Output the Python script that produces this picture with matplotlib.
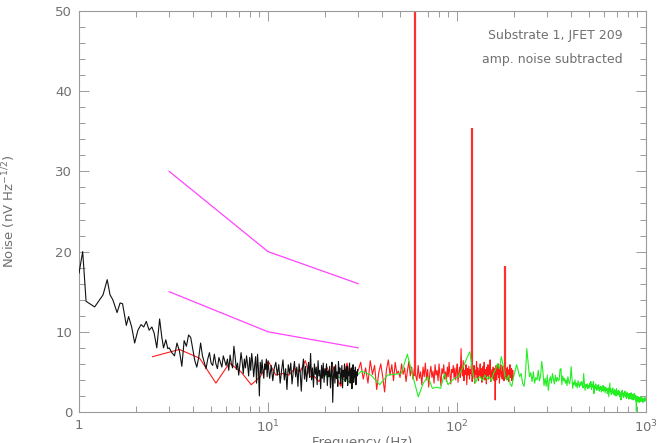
import numpy as np
import matplotlib
matplotlib.use("Agg")
import matplotlib.pyplot as plt
from matplotlib.ticker import FixedLocator, FixedFormatter, MultipleLocator

# ---------------- data ----------------
# black: low-frequency part (explicit) and dense part on a uniform grid
black_f_low = [1.00, 1.046, 1.09, 1.21, 1.34, 1.41, 1.46, 1.51, 1.59, 1.65, 1.70, 1.78,
               1.83, 1.90, 1.97, 2.05, 2.13, 2.20, 2.27, 2.35, 2.43, 2.50, 2.58, 2.67,
               2.74, 2.80, 2.88, 2.95]
black_v_low = [17.3, 20.0, 13.8, 13.1, 14.6, 16.5, 14.6, 14.0, 12.4, 13.6, 13.5, 10.8,
               11.9, 10.6, 8.6, 10.2, 10.9, 10.6, 11.3, 10.2, 10.6, 9.8, 8.0, 11.6,
               9.4, 8.0, 9.0, 7.9]
black_f_mid = np.arange(3.0, 9.95, 0.1)
black_v_mid = [8.0, 7.4, 7.0, 8.6, 7.6, 5.7, 8.9, 8.2, 9.6, 9.3,
               7.8, 6.4, 5.6, 6.8, 8.6, 7.0, 6.2, 5.4, 6.6, 7.4,
               6.1, 5.8, 7.2, 6.0, 5.4, 6.8, 6.2, 5.6, 7.0, 6.4,
               5.8, 6.6, 5.2, 7.1, 6.0, 5.5, 8.2, 6.9, 5.3, 6.1,
               4.6, 5.9, 7.4, 6.3, 4.8, 6.6, 5.5, 7.0, 5.9, 4.5,
               6.8, 5.2, 7.3, 6.1, 4.4, 5.8, 6.9, 3.6, 7.2, 5.4,
               2.0, 6.2, 4.8, 6.5, 5.1, 4.2, 6.0, 5.3, 6.6, 4.4]
black_f_high = np.arange(10.0, 29.9, 0.2)
black_v_high = [6.4, 4.2, 5.8, 3.9, 5.5, 6.2, 4.6, 5.9, 3.6, 5.2,
                6.5, 4.0, 5.4, 2.8, 5.9, 4.8, 6.1, 3.5, 5.0, 6.3,
                4.4, 5.6, 3.2, 6.0, 4.9, 2.6, 5.3, 6.6, 4.1, 5.7,
                3.8, 5.1, 6.2, 4.3, 7.3, 4.0, 5.5, 3.1, 6.0, 4.7,
                5.6, 3.4, 6.4, 4.5, 5.2, 2.9, 5.8, 4.2, 6.1, 3.7,
                5.4, 4.6, 6.0, 3.3, 5.1, 4.4, 5.7, 3.0, 4.9, 6.2,
                1.2, 4.5, 5.6, 3.6, 5.9, 4.2, 5.0, 3.2, 6.3, 4.8,
                5.5, 3.5, 4.6, 5.8, 3.0, 5.2, 4.4, 6.0, 3.8, 5.3,
                4.1, 5.7, 3.3, 5.0, 4.6, 6.1, 3.6, 4.9, 5.5, 2.9,
                4.8, 5.9, 3.7, 5.2, 4.3, 5.6, 3.4, 5.0, 4.5, 5.3]

# red: uniform frequency grid from 2.45 Hz
red_f = np.arange(2.45, 199.5, 0.95)
red_v = [6.9, 7.8, 6.7, 3.6, 6.1, 5.0, 3.4, 4.4, 6.3, 4.6,
         4.8, 4.6, 5.4, 5.0, 6.4, 4.4, 4.4, 3.8, 4.6, 5.6,
         4.4, 5.7, 4.0, 3.2, 4.8, 6.1, 4.4, 5.6, 3.9, 5.2,
         6.2, 4.1, 5.5, 3.6, 6.4, 4.7, 5.8, 2.8, 4.9, 6.0,
         4.4, 2.5, 5.3, 6.5, 4.6, 5.9, 3.9, 6.2, 4.8, 5.1,
         4.3, 6.0, 4.7, 5.5, 3.8, 5.2, 6.3, 4.5, 5.6, 4.1,
         5.4, 4.6, 3.9, 5.8, 4.2, 5.0, 3.4, 5.6, 4.4, 6.1,
         4.0, 5.3, 3.1, 4.8, 5.7, 4.3, 5.1, 3.6, 5.9, 4.6,
         5.2, 3.9, 6.0, 4.5, 3.3, 5.4, 4.8, 5.9, 4.1, 5.0,
         3.8, 5.6, 4.4, 6.2, 4.7, 3.5, 5.3, 4.9, 5.8, 4.2,
         5.5, 4.0, 5.1, 6.0, 3.7, 4.8, 5.6, 4.3, 7.9, 5.0,
         4.5, 6.4, 3.9, 5.2, 4.7, 5.9, 3.4, 5.4, 4.6, 5.7,
         4.1, 5.3, 4.8, 6.1, 3.8, 5.0, 4.4, 5.8, 3.6, 5.2,
         4.7, 6.3, 4.2, 5.5, 3.9, 5.1, 4.6, 6.0, 4.3, 5.4,
         3.7, 4.9, 5.7, 4.4, 6.2, 4.0, 5.3, 4.8, 3.5, 5.6,
         4.5, 5.9, 4.1, 5.2, 4.7, 6.5, 3.8, 5.0, 4.4, 5.3,
         4.2, 5.6, 4.9, 3.9, 5.4, 1.5, 4.6, 5.8, 4.0, 5.1,
         4.7, 6.0, 4.3, 5.5, 3.6, 5.2, 4.8, 5.9, 4.4, 5.0,
         4.1, 5.7, 4.6, 5.3, 3.9, 5.0, 4.5, 5.8, 4.2, 5.4,
         4.8, 4.0, 5.6, 4.4, 5.1, 3.8, 5.3, 4.7, 5.9, 4.3,
         5.0, 4.5, 5.4, 3.9, 4.8, 5.2, 4.6, 4.4]

# red mains-pickup lines
spike_f = [60.0, 120.0, 180.0]
spike_v = [52.0, 35.4, 18.2]

# green: uniform frequency grid from 19.5 Hz
green_f = np.arange(19.5, 1000.0, 3.9)
green_v = [4.5, 4.4, 3.7, 5.1, 4.6, 3.4, 4.6, 4.7, 4.8, 7.2,
           4.4, 1.9, 3.6, 4.4, 2.95, 3.1, 2.95, 4.8, 3.4, 3.9,
           4.2, 4.4, 5.2, 5.9, 6.8, 7.5, 5.0, 3.6, 4.2, 4.4,
           3.9, 4.6, 4.1, 4.4, 3.8, 4.8, 5.3, 6.0, 5.4, 6.9,
           5.8, 4.4, 4.0, 4.6, 3.5, 3.2, 4.3, 5.1, 5.9, 5.2,
           4.4, 4.8, 3.6, 3.2, 4.5, 7.9, 6.2, 4.4, 4.9, 3.8,
           5.0, 3.6, 4.3, 4.0, 5.2, 3.9, 4.5, 6.3, 5.1, 3.3,
           4.2, 3.2, 4.6, 2.7, 3.9, 4.4, 3.6, 4.8, 4.1, 3.5,
           4.6, 3.8, 4.3, 3.9, 4.0, 5.3, 5.4, 3.4, 4.5, 3.9,
           4.2, 3.6, 4.0, 3.3, 4.4, 3.8, 3.5, 4.1, 5.65, 4.3,
           2.95, 3.7, 3.4, 4.0, 3.2, 3.6, 3.0, 3.9, 3.4, 3.1,
           3.7, 3.3, 3.8, 3.5, 3.0, 4.8, 3.6, 2.7, 3.4, 3.1,
           3.5, 2.9, 3.3, 3.0, 3.6, 3.2, 3.8, 2.8, 3.4, 3.1,
           3.8, 2.3, 3.3, 2.9, 3.5, 3.0, 2.7, 3.3, 2.9, 3.4,
           2.6, 3.1, 2.8, 3.2, 2.5, 3.0, 2.7, 3.3, 2.6, 3.2,
           2.8, 2.4, 3.1, 2.7, 2.9, 2.3, 2.6, 3.0, 1.9, 2.8,
           3.6, 2.5, 2.9, 2.2, 2.7, 2.4, 3.0, 2.3, 2.6, 2.1,
           2.8, 2.4, 2.6, 2.0, 2.9, 2.3, 2.5, 2.1, 2.7, 2.2,
           2.6, 1.9, 2.4, 2.1, 1.5, 2.5, 2.2, 2.7, 2.0, 2.3,
           1.8, 2.4, 2.1, 2.6, 1.9, 2.2, 2.5, 1.7, 2.3, 2.0,
           2.4, 1.8, 2.1, 1.6, 2.3, 1.9, 2.2, 1.7, 2.0, 2.4,
           1.6, 2.1, 1.8, 2.2, 1.5, 2.0, 1.7, 2.3, 1.6, 1.9,
           2.1, 1.4, 1.9, 0.1, 2.0, 1.6, 1.8, 1.3, 1.9, 1.5,
           1.7, 1.2, 1.8, 1.4, 1.6, 1.9, 1.3, 1.7, 1.5, 1.8,
           1.4, 1.6, 1.2, 1.7, 1.5, 1.3, 1.6, 1.4, 1.8, 1.5,
           1.6, 1.4]

# magenta reference lines
ref_f = [3.0, 10.0, 30.0]
ref_upper = [30.0, 20.0, 16.0]
ref_lower = [15.0, 10.0, 8.0]

xtick_vals = [1, 10, 100, 1000]
xtick_labels = ['1', r'$\mathregular{10^1}$', r'$\mathregular{10^2}$', r'$\mathregular{10^3}$']
ann_lines = ['Substrate 1, JFET 209', 'amp. noise subtracted']

# ---------------- plot ----------------
TXT = '#707070'
AX = '#9a9a9a'
plt.rcParams['font.family'] = ['DejaVu Sans']
fig = plt.figure(figsize=(6.58, 4.43), dpi=100)
ax = fig.add_axes([79/658, 1-412/443, (646-79)/658, (412-11)/443])

black_f = np.concatenate([black_f_low, black_f_mid[:len(black_v_mid)], black_f_high[:len(black_v_high)]])
black_v = np.concatenate([black_v_low, black_v_mid, black_v_high])

ax.plot(red_f[:len(red_v)], red_v, color='#ff1a1a', lw=0.8, zorder=2)
ax.vlines(spike_f, 4.5, spike_v, color='#ff3030', lw=1.6, zorder=2)
ax.plot(black_f, black_v, color='#111111', lw=0.8, zorder=3)
ax.plot(green_f[:len(green_v)], green_v, color='#22ee22', lw=0.8, zorder=2.5)
ax.plot(ref_f, ref_upper, color='#ff44ff', lw=0.9, zorder=4)
ax.plot(ref_f, ref_lower, color='#ff44ff', lw=0.9, zorder=4)

ax.set_xscale('log')
ax.set_xlim(1, 1000)
ax.set_ylim(0, 50)
ax.xaxis.set_major_locator(FixedLocator(xtick_vals))
ax.xaxis.set_major_formatter(FixedFormatter(xtick_labels))
ax.yaxis.set_major_locator(MultipleLocator(10))
ax.yaxis.set_minor_locator(MultipleLocator(2))

for s in ax.spines.values():
    s.set_color(AX)
    s.set_linewidth(0.8)
ax.tick_params(which='both', direction='in', top=True, right=True, color=AX,
               labelcolor=TXT, labelsize=9.5, width=0.7)
ax.tick_params(which='major', length=7, pad=5)
ax.tick_params(which='minor', length=4)

ax.set_ylabel(r'Noise (nV Hz$^{\mathregular{-1/2}}$)', color=TXT, fontsize=9.5)
ax.yaxis.set_label_coords(-0.108, 0.5)
ax.set_xlabel('Frequency (Hz)', color=TXT, fontsize=9.5)
ax.xaxis.set_label_coords(0.5, -0.06)

ax.text(0.959, 0.940, ann_lines[0], transform=ax.transAxes, ha='right', va='center',
        color=TXT, fontsize=9)
ax.text(0.959, 0.880, ann_lines[1], transform=ax.transAxes, ha='right', va='center',
        color=TXT, fontsize=9)

fig.savefig('out.png', dpi=100)
